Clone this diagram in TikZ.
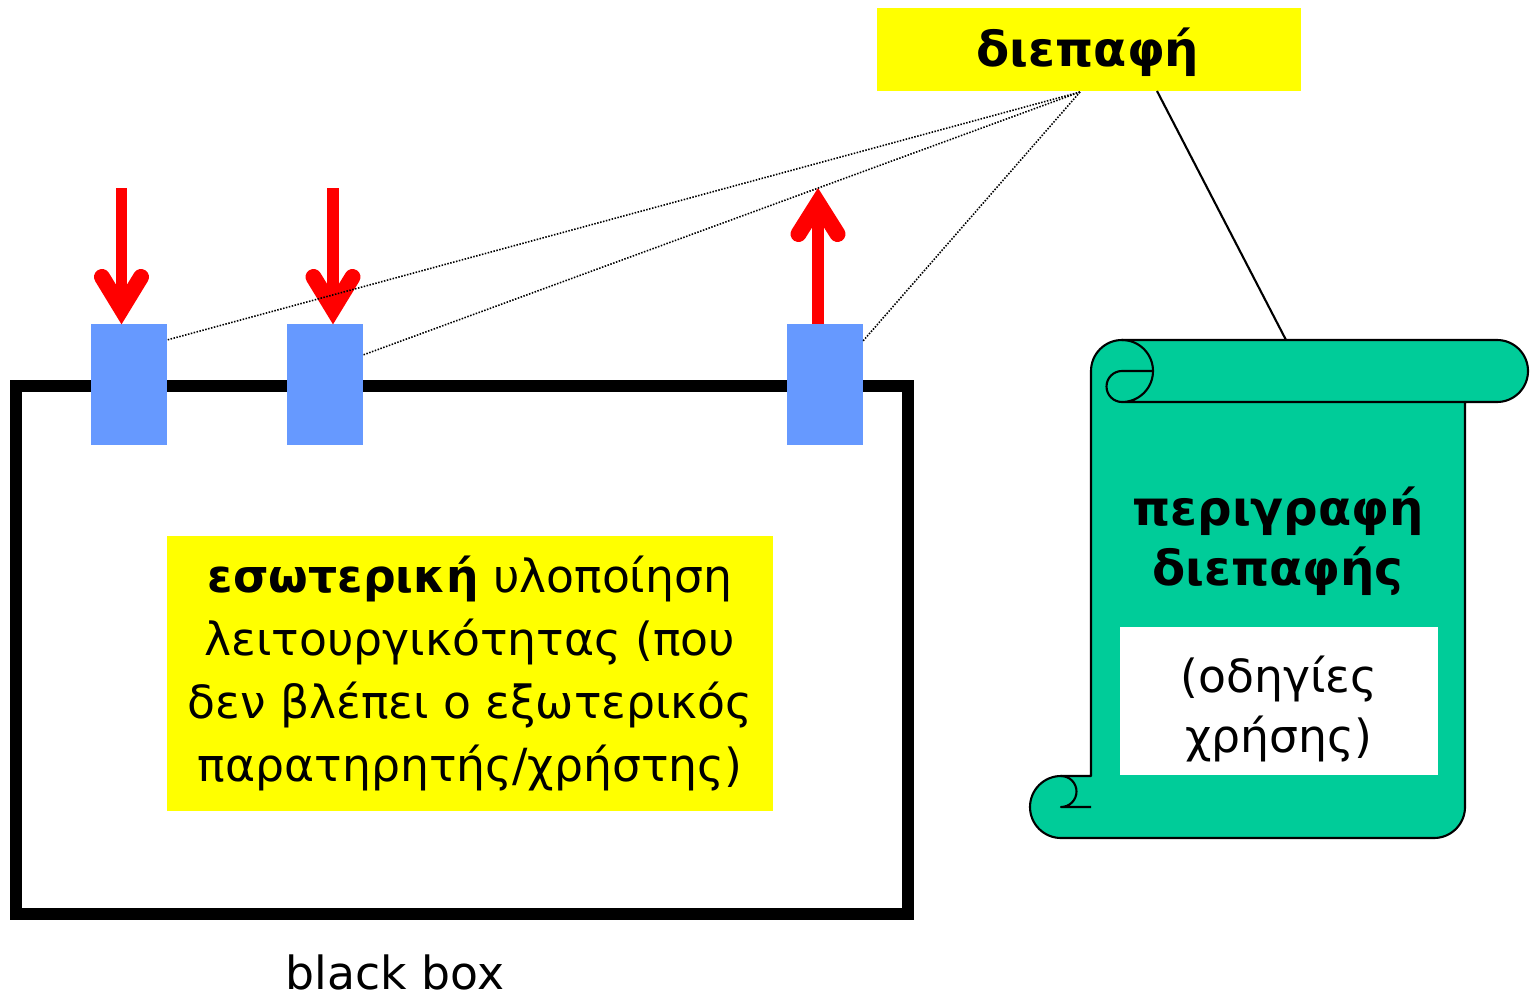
\documentclass[tikz,border=0pt]{standalone}
\usepackage{fontspec}
\setmainfont{DejaVu Sans}
\definecolor{yel}{HTML}{FFFF00}
\definecolor{blu}{HTML}{6699FF}
\definecolor{grn}{HTML}{00CC99}
\definecolor{rd}{HTML}{FF0000}
\begin{document}
\begin{tikzpicture}[x=0.02cm,y=-0.02cm,
  port/.style={fill=blu,draw=none,inner sep=0pt,minimum width=1.52cm,minimum height=2.42cm},
  ybox/.style={fill=yel,draw=none,inner sep=0pt,align=center},
  shaft/.style={draw=rd,line width=6.8pt},
  wing/.style={draw=rd,line width=9.1pt,line cap=round,line join=miter},
  dotline/.style={draw=black,line width=0.9pt,dash pattern=on 0.85pt off 0.85pt},
  scroll/.style={fill=grn,draw=black,line width=1.2pt,line join=round},
  reg/.style={font=\fontsize{26}{35.7}\selectfont,align=center}]
\useasboundingbox (0,0) rectangle (1531,997);
% black box
\node[draw=black,line width=6.8pt,minimum width=17.86cm,minimum height=10.58cm,inner sep=0pt] (bb) at (462,650) {};
\node[reg] (bblabel) at (395,972) {black box};
% ports
\node[port] (b1) at (129,384.5) {};
\node[port] (b2) at (325,384.5) {};
\node[port] (b3) at (825,384.5) {};
% inner yellow
\node[ybox,minimum width=12.12cm,minimum height=5.5cm,font=\fontsize{26}{35.7}\selectfont] (inner) at (470,673.5)
  {\textbf{εσωτερική} υλοποίηση\\λειτουργικότητας (που\\δεν βλέπει ο εξωτερικός\\παρατηρητής/χρήστης)};
% interface label
\node[ybox,minimum width=8.48cm,minimum height=1.66cm] (dp) at (1089,49.5) {};
\node[font=\fontsize{27.5}{30}\selectfont\bfseries] (dptext) at (1088,52) {διεπαφή};
% arrows
\coordinate (a1t) at (121.5,188);
\coordinate (a2t) at (333,188);
\coordinate (a3t) at (818,188);
\draw[shaft] (a1t) -- (121.5,310);
\draw[wing] (102,277) -- (121.5,309) -- (141,277);
\draw[shaft] (a2t) -- (333,310);
\draw[wing] (313.5,277) -- (333,309) -- (352.5,277);
\draw[shaft] (b3.north -| a3t) -- (818,204);
\draw[wing] (798.5,234) -- (818,203) -- (837.5,234);
% dotted lines
\coordinate (dps) at (1080,92);
\coordinate (e1) at (167,340);
\coordinate (e2) at (363,355);
\coordinate (e3) at (863,341);
\draw[dotline] (dps) -- (e1);
\draw[dotline] (dps) -- (e2);
\draw[dotline] (dps) -- (e3);
% scroll
\coordinate (ds) at (1157,91);
\coordinate (sc) at (1286,340);
\draw[line width=1.2pt] (ds) -- (sc);
\path[scroll] (1122,340) -- (1497,340) arc[start angle=-90,end angle=90,radius=31]
  -- (1465,402) -- (1465,807) arc[start angle=0,end angle=90,radius=31]
  -- (1061,838) arc[start angle=90,end angle=270,radius=31]
  -- (1091,776) -- (1091,371) arc[start angle=180,end angle=270,radius=31] -- cycle;
\draw[line width=1.2pt,line join=round] (1122,340) arc[start angle=-90,end angle=90,radius=31] -- (1465,402);
\draw[line width=1.2pt,line join=round] (1153,371) -- (1122,371) arc[start angle=-90,end angle=-270,radius=15.5];
\draw[line width=1.2pt,line join=round] (1091,807) -- (1061,807) arc[start angle=90,end angle=-90,radius=15.5];
\node[font=\fontsize{27.5}{34}\selectfont\bfseries,align=center] (desc) at (1278,541) {περιγραφή\\διεπαφής};
\node[fill=white,inner sep=0pt,minimum width=6.36cm,minimum height=2.96cm] (use) at (1279,701) {};
\node[align=center,font=\fontsize{26}{34}\selectfont] (usetext) at (1279,709) {(οδηγίες\\χρήσης)};
\end{tikzpicture}
\end{document}
